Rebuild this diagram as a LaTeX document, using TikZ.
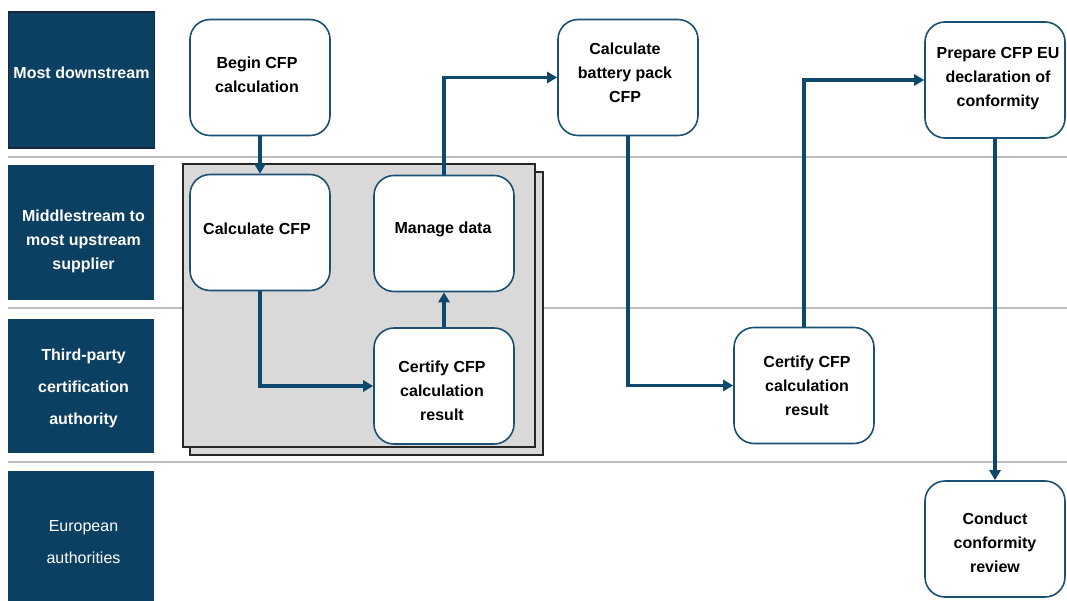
\documentclass[tikz,border=0pt]{standalone}
\usepackage{fontspec}
\setmainfont{Liberation Sans}
\usetikzlibrary{arrows.meta}
\definecolor{lanefill}{RGB}{12,64,98}
\definecolor{laneedge}{RGB}{22,40,58}
\definecolor{boxedge}{RGB}{28,80,114}
\definecolor{flow}{RGB}{14,72,108}
\definecolor{panel}{RGB}{217,217,217}
\definecolor{sepline}{RGB}{190,190,190}
\tikzset{
  lane/.style={fill=lanefill, inner sep=0pt, minimum width=146pt},
  lanetext/.style={text=white, align=center, inner sep=0pt,
    font=\bfseries\fontsize{16}{24}\selectfont},
  task/.style={draw=boxedge, line width=1.6pt, fill=white, rounded corners=20pt,
    minimum width=140pt, minimum height=116pt, inner sep=0pt},
  tasktext/.style={align=center, inner sep=0pt,
    font=\bfseries\fontsize{16}{24}\selectfont},
  flowline/.style={draw=flow, line width=3.2pt, -{Triangle[length=10pt,width=11pt]}},
  separator/.style={draw=sepline, line width=1.6pt},
  sheet/.style={draw=black!85, fill=panel, line width=1.6pt}
}
\begin{document}
\begin{tikzpicture}[x=1pt,y=-1pt]
\useasboundingbox (0,0) rectangle (1067,601);

% swimlane separators
\draw[separator] (8,157) -- (1067,157);
\draw[separator] (8,308) -- (1067,308);
\draw[separator] (8,462) -- (1067,462);

% lane headers
\node[lane, draw=laneedge, line width=1.4pt, minimum height=136pt] (l1) at (81.5,80) {};
\node[lane, minimum height=135pt] (l2) at (81,232.5) {};
\node[lane, minimum height=134pt] (l3) at (81,386) {};
\node[lane, minimum height=130pt] (l4) at (81,536) {};
\node[lanetext] (l1t) at ([yshift=7pt]l1.center) {Most downstream};
\node[lanetext] (l2t) at ([xshift=2.5pt,yshift=-9pt]l2.center) {Middlestream to\\most upstream\\supplier};
\node[lanetext, font=\bfseries\fontsize{16}{32}\selectfont] (l3t) at ([xshift=2.5pt,yshift=-2pt]l3.center) {Third-party\\certification\\authority};
\node[lanetext, font=\fontsize{16}{32}\selectfont] (l4t) at ([xshift=2.5pt,yshift=-6pt]l4.center) {European\\authorities};

% stacked grey panel for the supplier side
\draw[sheet] (190,172) rectangle (543,455);
\draw[sheet] (183,164) rectangle (535,447);

% process steps
\node[task] (begin) at (260,77.5) {};
\node[task] (calc) at (260,232.5) {};
\node[task] (manage) at (444,233.5) {};
\node[task] (cert1) at (444,386) {};
\node[task] (pack) at (628,77.5) {};
\node[task] (cert2) at (804,385.5) {};
\node[task] (prep) at (995,80) {};
\node[task] (review) at (995,539) {};

\node[tasktext] (begint) at ([xshift=-3pt,yshift=3pt]begin.center) {Begin CFP\\calculation};
\node[tasktext] (calct) at ([xshift=-3pt,yshift=4pt]calc.center) {Calculate CFP};
\node[tasktext] (managet) at ([xshift=-1pt,yshift=4pt]manage.center) {Manage data};
\node[tasktext] (cert1t) at ([xshift=-2pt,yshift=-5pt]cert1.center) {Certify CFP\\calculation\\result};
\node[tasktext] (packt) at ([xshift=-3pt,yshift=4.5pt]pack.center) {Calculate\\battery pack\\CFP};
\node[tasktext] (cert2t) at ([xshift=3pt]cert2.center) {Certify CFP\\calculation\\result};
\node[tasktext] (prept) at ([xshift=3pt,yshift=1.5pt]prep.center) {Prepare CFP EU\\declaration of\\conformity};
\node[tasktext] (reviewt) at ([yshift=-3.5pt]review.center) {Conduct\\conformity\\review};

% flow
\draw[flowline] (begin.south) -- (calc.north);
\draw[flowline] (calc.south) |- (cert1.west);
\draw[flowline] (cert1.north) -- (manage.south);
\draw[flowline] (manage.north) |- (pack.west);
\draw[flowline] (pack.south) |- (cert2.west);
\draw[flowline] (cert2.north) |- (prep.west);
\draw[flowline] (prep.south) -- (review.north);
\end{tikzpicture}
\end{document}
